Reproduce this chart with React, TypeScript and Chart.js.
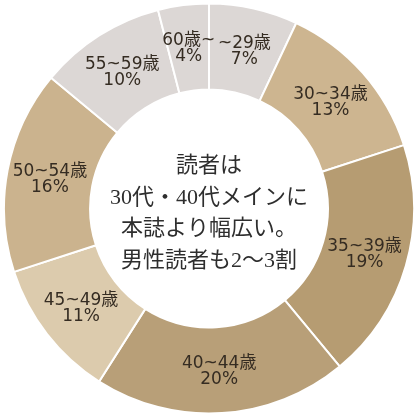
import React, { useEffect, useRef } from "react";
import { Chart, registerables } from "chart.js";

Chart.register(...registerables);

const categories = ["~29歳", "30~34歳", "35~39歳", "40~44歳", "45~49歳", "50~54歳", "55~59歳", "60歳~"];
const percentages = [7, 13, 19, 20, 11, 16, 10, 4];
const colors = ["#dcd7d5", "#cdb590", "#b69c72", "#b89f78", "#dccbad", "#cbb38e", "#dcd7d5", "#dcd7d5"];
const centerLines = ["読者は", "30代・40代メインに", "本誌より幅広い。", "男性読者も2〜3割"];

const labelPlugin = {
  id: "segLabels",
  afterDatasetsDraw(chart: any) {
    const ctx = chart.ctx;
    const meta = chart.getDatasetMeta(0);
    ctx.save();
    ctx.fillStyle = "#352c22";
    ctx.font = "17px 'DejaVu Sans', 'Noto Sans CJK JP', sans-serif";
    ctx.textAlign = "center";
    ctx.textBaseline = "middle";
    meta.data.forEach((arc: any, i: number) => {
      const p = arc.tooltipPosition();
      ctx.fillText(categories[i], p.x, p.y - 7);
      ctx.fillText(percentages[i] + "%", p.x, p.y + 9);
    });
    const cx = (chart.chartArea.left + chart.chartArea.right) / 2;
    const cy = (chart.chartArea.top + chart.chartArea.bottom) / 2;
    ctx.fillStyle = "#2e2e2e";
    ctx.font = "22px 'Liberation Serif', 'Noto Sans CJK JP', serif";
    const startY = cy - 42;
    centerLines.forEach((line, i) => {
      ctx.fillText(line, cx, startY + i * 31.5);
    });
    ctx.restore();
  },
};

export default function App() {
  const ref = useRef<HTMLCanvasElement | null>(null);
  useEffect(() => {
    if (!ref.current) return;
    const chart = new Chart(ref.current, {
      type: "doughnut",
      data: {
        labels: categories,
        datasets: [
          {
            data: percentages,
            backgroundColor: colors,
            borderColor: "#ffffff",
            borderWidth: 2,
          },
        ],
      },
      options: {
        animation: false,
        responsive: false,
        cutout: "58%",
        layout: { padding: { left: 3, right: 0, top: 2, bottom: 0 } },
        plugins: {
          legend: { display: false },
          tooltip: { enabled: false },
        },
      },
      plugins: [labelPlugin],
    });
    return () => chart.destroy();
  }, []);
  return (
    <div style={{ position: "fixed", left: 0, top: 0, width: 415, height: 415, background: "#ffffff" }}>
      <canvas ref={ref} width={415} height={415} style={{ width: 415, height: 415 }} />
    </div>
  );
}
